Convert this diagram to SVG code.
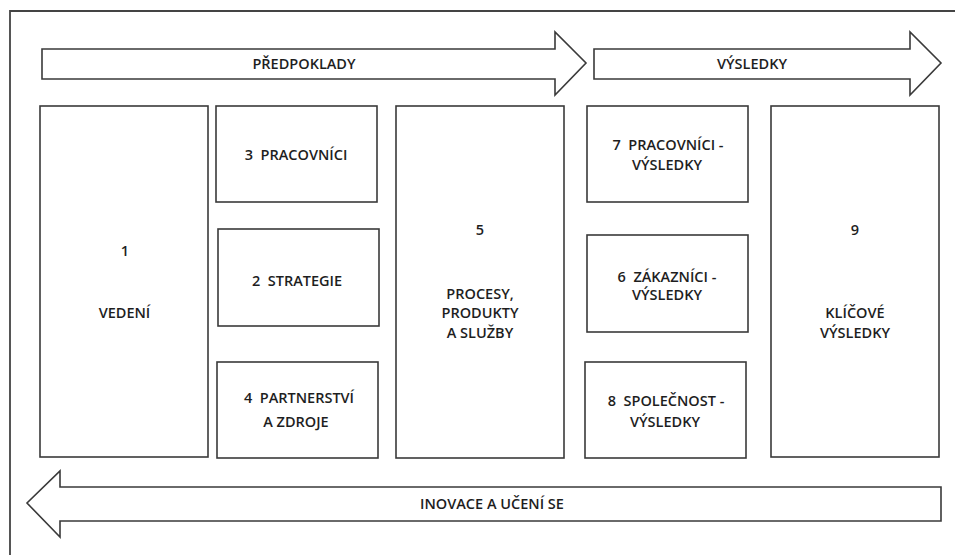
<svg xmlns="http://www.w3.org/2000/svg" width="955" height="555" viewBox="0 0 955 555">
<style>
.box{fill:#fff;stroke:#3a3a3a;stroke-width:1.6}
.arr{fill:#fff;stroke:#3a3a3a;stroke-width:1.6;stroke-linejoin:miter}
.frame{fill:none;stroke:#444;stroke-width:1.8}
text{font-family:"Open Sans","Noto Sans",sans-serif;font-size:14.5px;font-weight:600;fill:#1e1e1e;text-anchor:middle}
</style>
<rect width="955" height="555" fill="#fff"/>
<path class="frame" d="M10,555 V11 H955"/>
<g id="connectors">
<g id="arrow-predpoklady">
<path class="arr" d="M42,49 H555 V32 L586,63 L555,95 V79 H42 Z"/>
<text x="304" y="69">PŘEDPOKLADY</text>
</g>
<g id="arrow-vysledky">
<path class="arr" d="M594,49 H910 V32 L941,63 L910,95 V79 H594 Z"/>
<text x="752" y="69">VÝSLEDKY</text>
</g>
<g id="arrow-inovace">
<path class="arr" d="M941,487 H60 V471 L27,503 L60,537 V521 H941 Z"/>
<text x="492" y="509">INOVACE A UČENÍ SE</text>
</g>
</g>
<g id="node1">
<rect class="box" x="40" y="106" width="168" height="351"/>
<text x="125" y="256">1</text>
<text x="124.5" y="318">VEDENÍ</text>
</g>
<g id="node3">
<rect class="box" x="216" y="106" width="161" height="96"/>
<text x="296" y="160" xml:space="preserve">3  PRACOVNÍCI</text>
</g>
<g id="node2">
<rect class="box" x="218" y="229" width="161" height="97"/>
<text x="297" y="286" xml:space="preserve">2  STRATEGIE</text>
</g>
<g id="node4">
<rect class="box" x="217" y="362" width="161" height="96"/>
<text x="299" y="403" xml:space="preserve">4  PARTNERSTVÍ</text>
<text x="296" y="427">A ZDROJE</text>
</g>
<g id="node5">
<rect class="box" x="396" y="106" width="168" height="352"/>
<text x="480" y="235">5</text>
<text x="480" y="299">PROCESY,</text>
<text x="480" y="318">PRODUKTY</text>
<text x="480" y="338">A SLUŽBY</text>
</g>
<g id="node7">
<rect class="box" x="587" y="106" width="161" height="96"/>
<text x="668" y="150" xml:space="preserve">7  PRACOVNÍCI -</text>
<text x="667" y="170">VÝSLEDKY</text>
</g>
<g id="node6">
<rect class="box" x="587" y="235" width="161" height="97"/>
<text x="667" y="282" xml:space="preserve">6  ZÁKAZNÍCI -</text>
<text x="667" y="300">VÝSLEDKY</text>
</g>
<g id="node8">
<rect class="box" x="585" y="362" width="161" height="96"/>
<text x="666" y="406" xml:space="preserve">8  SPOLEČNOST -</text>
<text x="665" y="427">VÝSLEDKY</text>
</g>
<g id="node9">
<rect class="box" x="771" y="106" width="168" height="351"/>
<text x="855" y="235">9</text>
<text x="855" y="318">KLÍČOVÉ</text>
<text x="855" y="338">VÝSLEDKY</text>
</g>
</svg>
